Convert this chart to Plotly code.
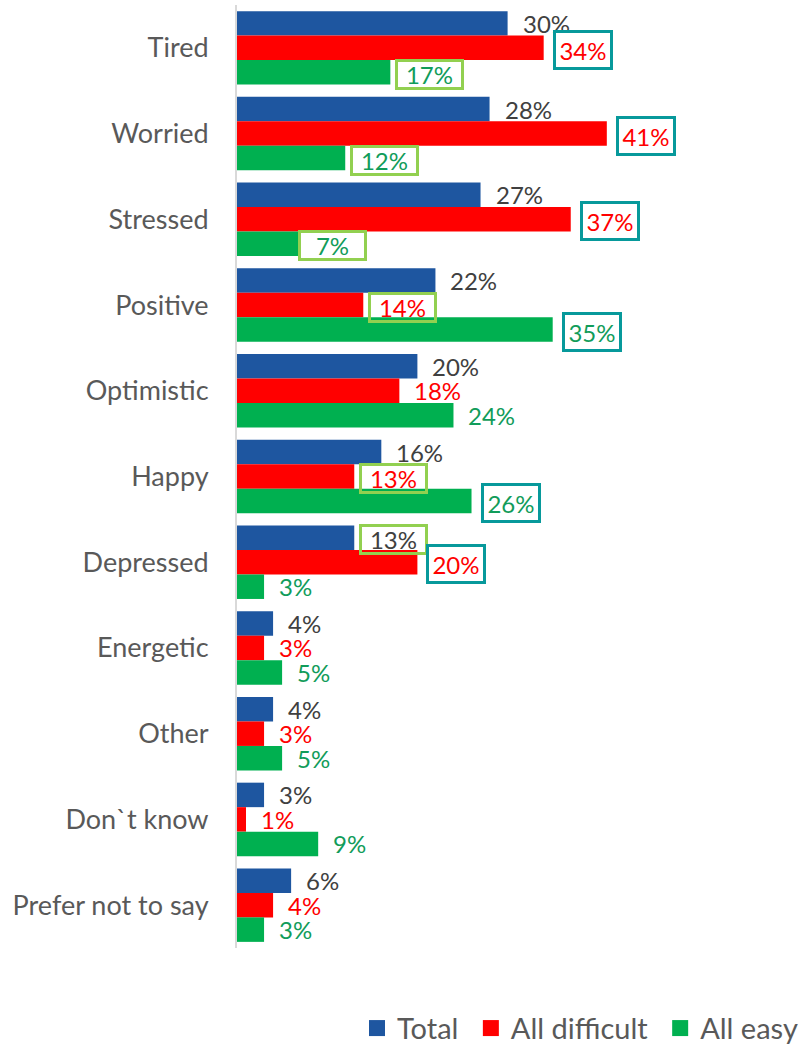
import plotly.graph_objects as go

# Survey: feelings reported, by group (percent)
categories = ["Tired", "Worried", "Stressed", "Positive", "Optimistic", "Happy",
              "Depressed", "Energetic", "Other", "Don`t know", "Prefer not to say"]
series_names = ["Total", "All difficult", "All easy"]
total = [30, 28, 27, 22, 20, 16, 13, 4, 4, 3, 6]
all_difficult = [34, 41, 37, 14, 18, 13, 20, 3, 3, 1, 4]
all_easy = [17, 12, 7, 35, 24, 26, 3, 5, 5, 9, 3]

# Labels that get a callout frame: (category, series) -> frame style
callouts = {
    ("Tired", "All difficult"): "teal",
    ("Worried", "All difficult"): "teal",
    ("Stressed", "All difficult"): "teal",
    ("Positive", "All easy"): "teal",
    ("Happy", "All easy"): "teal",
    ("Depressed", "All difficult"): "teal",
    ("Tired", "All easy"): "lime",
    ("Worried", "All easy"): "lime",
    ("Stressed", "All easy"): "lime",
    ("Positive", "All difficult"): "lime",
    ("Happy", "All difficult"): "lime",
    ("Depressed", "Total"): "lime",
}

bar_colors = ["#1E56A0", "#FF0000", "#00B050"]
label_colors = ["#404040", "#FF0000", "#119C5A"]
frame_styles = {
    "teal": dict(color="#07999B", outer_w=60, outer_h=40),
    "lime": dict(color="#92D050", outer_w=69, outer_h=31),
}

FONT = "Lato"
LABEL_SIZE = 24
BORDER = 3
BARGAP = 0.143
LEGEND_PAD = "\u00a0"  # a little extra room after a legend entry's text

values = [total, all_difficult, all_easy]

fig = go.Figure()
for name, vals, col in zip(series_names, values, bar_colors):
    fig.add_trace(go.Bar(
        y=categories, x=vals, name=name, orientation="h",
        marker=dict(color=col, line=dict(width=0)),
        showlegend=False, hoverinfo="skip",
    ))

# Legend entries with larger square swatches
for k, (name, col) in enumerate(zip(series_names, bar_colors)):
    pad = LEGEND_PAD if k < len(series_names) - 1 else ""
    fig.add_trace(go.Scatter(
        x=[None], y=[None], mode="markers", name=name + pad,
        marker=dict(symbol="square", size=18, color=col),
        showlegend=True,
    ))

# Data labels placed just past each bar end
bar_w = (1 - BARGAP) / len(series_names)
annotations = []
for s, (name, vals) in enumerate(zip(series_names, values)):
    offset = (s - 1) * bar_w
    for i, (cat, v) in enumerate(zip(categories, vals)):
        text = f"{v}%"
        ann = dict(
            x=v, y=i + offset, xref="x", yref="y",
            text=text, showarrow=False,
            font=dict(family=FONT, size=LABEL_SIZE, color=label_colors[s]),
            xanchor="left", yanchor="middle",
        )
        style = callouts.get((cat, name))
        if style:
            fs = frame_styles[style]
            est_w = 14 * (len(text) - 1) + 20
            ann.update(
                width=fs["outer_w"] - 2 * BORDER,
                height=fs["outer_h"] - 2 * BORDER,
                borderpad=0, borderwidth=BORDER, bordercolor=fs["color"],
                align="center", valign="middle",
                xshift=15 + est_w / 2 - fs["outer_w"] / 2,
                yshift=-2,
            )
        else:
            ann.update(xshift=13)
        annotations.append(ann)

fig.update_layout(
    width=803, height=1046,
    margin=dict(l=237, r=115, t=5, b=98, autoexpand=False),
    paper_bgcolor="white", plot_bgcolor="white",
    barmode="group", bargap=BARGAP, bargroupgap=0,
    font=dict(family=FONT, color="#595959"),
    annotations=annotations,
    legend=dict(
        orientation="h", xref="container", yref="container",
        x=1.0, xanchor="right", y=0.017, yanchor="middle",
        font=dict(family=FONT, size=29, color="#595959"),
        itemwidth=30, traceorder="normal", tracegroupgap=0,
    ),
)
fig.update_xaxes(range=[0, 50], visible=False, fixedrange=True)
fig.update_yaxes(
    autorange="reversed", showgrid=False, zeroline=False,
    showline=True, linecolor="#D9D9D9", linewidth=2,
    ticks="", ticklabelstandoff=21,
    tickfont=dict(family=FONT, size=27, color="#595959"),
)

fig.write_html("out.html")
